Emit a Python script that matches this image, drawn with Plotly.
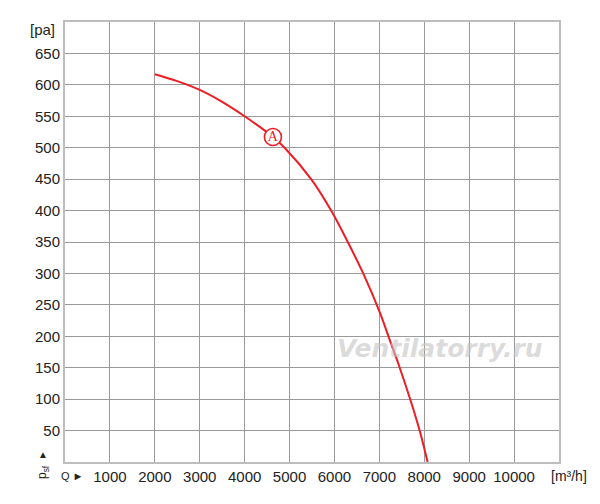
import plotly.graph_objects as go

# Fan curve data (airflow Q in m³/h, static pressure psf in Pa)
q_values = [2000, 2500, 3000, 3500, 4000, 4630, 4889, 5481, 5926, 6296, 6640, 7010, 7222, 7444, 7690, 7889, 8074]
p_values = [617, 606, 592, 573, 550, 517, 500, 450, 400, 350, 300, 238, 196, 152, 99, 52, 0]

# Operating point label "A"
marker_q = [4630]
marker_p = [517]
marker_text = ["A"]

x_ticks = [1000, 2000, 3000, 4000, 5000, 6000, 7000, 8000, 9000, 10000]
x_tick_labels = [str(v) for v in x_ticks]
y_ticks = [50, 100, 150, 200, 250, 300, 350, 400, 450, 500, 550, 600, 650]
y_tick_labels = [str(v) for v in y_ticks]

FONT = "Liberation Sans, Arial, sans-serif"
RED = "#ee1c25"
TXT = "#222222"

# page body has an 8px offset; plot area in the picture spans x 65..559, y 22..462
L, T, PW, PH = 57, 14, 494, 440
W, H = 600, 504

fig = go.Figure()

fig.add_trace(go.Scatter(
    x=q_values, y=p_values, mode="lines",
    line=dict(color=RED, width=2, shape="spline", smoothing=1.0),
    hoverinfo="skip", showlegend=False,
))

fig.add_trace(go.Scatter(
    x=marker_q, y=marker_p, mode="markers+text",
    marker=dict(symbol="circle", size=17, color="white", line=dict(color=RED, width=1.6)),
    text=marker_text, textposition="middle center",
    textfont=dict(family="Liberation Serif, Times New Roman, serif", size=14, color=RED),
    hoverinfo="skip", showlegend=False,
))

fig.update_layout(
    width=W, height=H,
    margin=dict(l=L, r=W - L - PW, t=T, b=H - T - PH, autoexpand=False),
    paper_bgcolor="white", plot_bgcolor="white",
    font=dict(family=FONT, size=15, color=TXT),
    xaxis=dict(
        range=[0, 11000], tickvals=x_ticks, ticktext=x_tick_labels,
        showgrid=True, gridcolor="#9a9a9a", gridwidth=1.2,
        showline=True, linecolor="#bdbdbd", linewidth=2, mirror=True,
        zeroline=False, ticks="", ticklen=0,
        tickfont=dict(family=FONT, size=15, color=TXT),
    ),
    yaxis=dict(
        range=[0, 700], tickvals=y_ticks, ticktext=y_tick_labels,
        showgrid=True, gridcolor="#9a9a9a", gridwidth=1.2,
        showline=True, linecolor="#bdbdbd", linewidth=2, mirror=True,
        zeroline=False, ticks="", ticklen=0,
        tickfont=dict(family=FONT, size=15, color=TXT),
    ),
    annotations=[
        dict(text="[pa]", x=0, y=700, xref="x", yref="y", xanchor="right", yanchor="middle",
             xshift=-8, yshift=-7, showarrow=False, font=dict(family=FONT, size=15, color=TXT)),
        dict(text="[m³/h]", x=11000, y=0, xref="x", yref="y", xanchor="center", yanchor="middle",
             xshift=10, yshift=-14, showarrow=False, font=dict(family=FONT, size=14, color=TXT)),
        dict(text="Q ►", x=0, y=0, xref="x", yref="y", xanchor="center", yanchor="middle",
             xshift=7, yshift=-14, showarrow=False, font=dict(family=FONT, size=11, color=TXT)),
        dict(text="▲", x=0, y=0, xref="x", yref="y", xanchor="center", yanchor="middle",
             xshift=-22, yshift=8, showarrow=False, font=dict(family=FONT, size=10, color=TXT)),
        dict(text="p<sub>sf</sub>", x=0, y=0, xref="x", yref="y", xanchor="center", yanchor="middle",
             xshift=-22, yshift=-10, textangle=-90, showarrow=False,
             font=dict(family=FONT, size=12, color=TXT)),
        dict(text="<b><i>Ventilatorry.ru</i></b>", x=(440 - 65) / PW, y=(462 - 348) / PH,
             xref="paper", yref="paper", xanchor="center", yanchor="middle",
             showarrow=False, font=dict(family="DejaVu Sans, sans-serif", size=25,
                                        color="rgba(195,195,195,0.6)")),
    ],
)

fig.write_html("out.html")
